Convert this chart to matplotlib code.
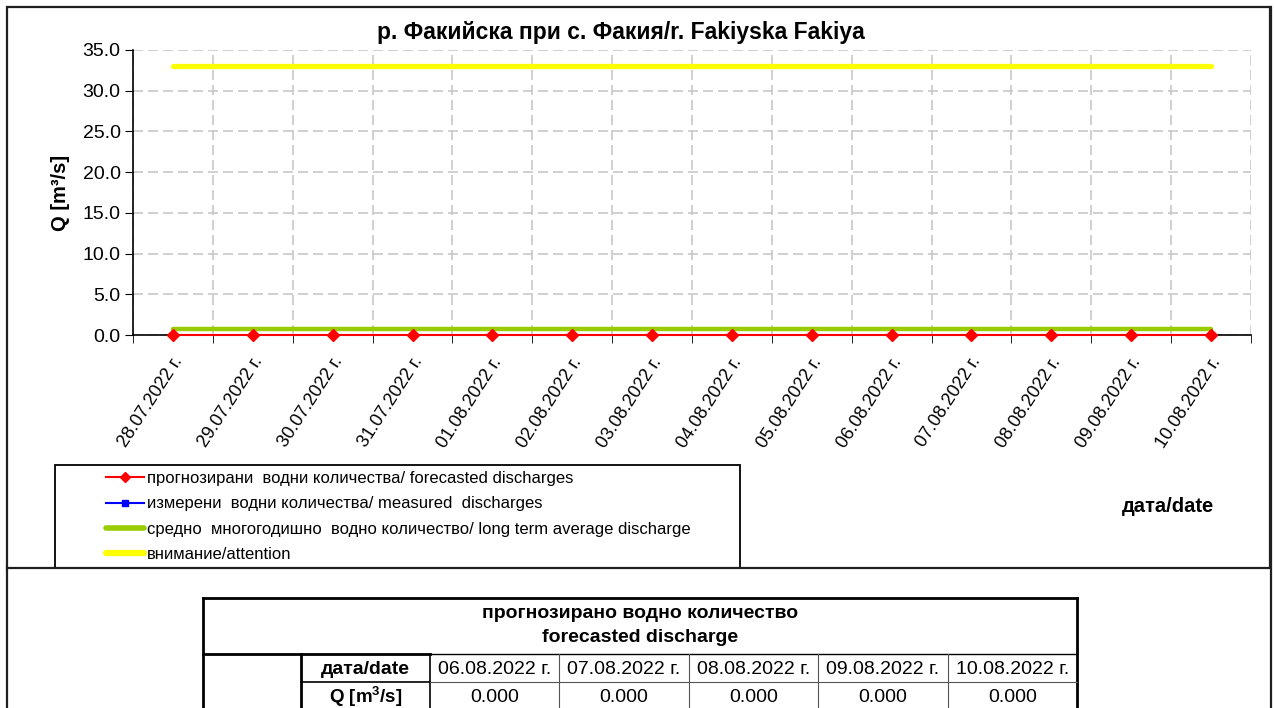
import numpy as np
import matplotlib.pyplot as plt
from matplotlib.lines import Line2D
from matplotlib.patches import Rectangle
from matplotlib.transforms import ScaledTranslation

plt.rcParams['font.family'] = ['Liberation Sans', 'DejaVu Sans']
plt.rcParams['mathtext.fontset'] = 'custom'
plt.rcParams['mathtext.rm'] = 'Liberation Sans'
plt.rcParams['mathtext.bf'] = 'Liberation Sans:bold'

W, H = 1274, 708

# chart data
dates = ['28.07.2022 г.', '29.07.2022 г.', '30.07.2022 г.', '31.07.2022 г.',
         '01.08.2022 г.', '02.08.2022 г.', '03.08.2022 г.', '04.08.2022 г.',
         '05.08.2022 г.', '06.08.2022 г.', '07.08.2022 г.', '08.08.2022 г.',
         '09.08.2022 г.', '10.08.2022 г.']
forecast = [0.0, 0.0, 0.0, 0.0, 0.0, 0.0, 0.0, 0.0, 0.0, 0.0, 0.0, 0.0, 0.0, 0.0]
measured = []
average = [0.7, 0.7, 0.7, 0.7, 0.7, 0.7, 0.7, 0.7, 0.7, 0.7, 0.7, 0.7, 0.7, 0.7]
attention = [33.0, 33.0, 33.0, 33.0, 33.0, 33.0, 33.0, 33.0, 33.0, 33.0, 33.0, 33.0, 33.0, 33.0]

labels = ['прогнозирани  водни количества/ forecasted discharges',
          'измерени  водни количества/ measured  discharges',
          'средно  многогодишно  водно количество/ long term average discharge',
          'внимание/attention']

# table data
table_dates = ['06.08.2022 г.', '07.08.2022 г.', '08.08.2022 г.', '09.08.2022 г.', '10.08.2022 г.']
table_q = [0.000, 0.000, 0.000, 0.000, 0.000]


def fx(x):
    return x / W


def fy(y):
    return 1 - y / H


def hline(fig, x0, x1, y, lw=1.0, color='black'):
    fig.add_artist(Line2D([fx(x0), fx(x1)], [fy(y), fy(y)], transform=fig.transFigure,
                          lw=lw, color=color, solid_capstyle='projecting'))


def vline(fig, x, y0, y1, lw=1.0, color='black'):
    fig.add_artist(Line2D([fx(x), fx(x)], [fy(y0), fy(y1)], transform=fig.transFigure,
                          lw=lw, color=color, solid_capstyle='projecting'))


fig = plt.figure(figsize=(W / 100, H / 100), dpi=100)
ax = fig.add_axes([fx(133), fy(335), fx(1251) - fx(133), fy(50) - fy(335)])

x = np.arange(len(dates))
ax.plot(x, attention, color='#FFFF00', lw=3.8, solid_capstyle='round', zorder=3)
ax.plot(x, average, color='#99CC00', lw=3.2, solid_capstyle='round', zorder=3)
ax.plot(x, forecast, color='#FF0000', lw=1.5, marker='D', ms=6.5, zorder=4, clip_on=False)
ax.plot(measured, measured, color='#0000FF', lw=1.5, marker='s', ms=5)

ax.set_xlim(-0.5, len(dates) - 0.5)
ax.set_ylim(0, 35)
ax.set_yticks(np.arange(0, 36, 5))
ax.yaxis.set_major_formatter(plt.FormatStrFormatter('%.1f'))
ax.set_xticks(x)
ax.set_xticklabels(dates, rotation=57, ha='right', va='center', rotation_mode='anchor')
ax.set_xticks(np.arange(-0.5, len(dates), 1), minor=True)

ax.tick_params(axis='x', which='major', length=0, pad=17, labelsize=13)
ax.tick_params(axis='x', which='minor', length=6, direction='out', color='black')
ax.tick_params(axis='y', length=6, direction='out', color='black', labelsize=14, pad=3)
offset = ScaledTranslation(6 / 100, 0, fig.dpi_scale_trans)
for lab in ax.get_xticklabels():
    lab.set_transform(lab.get_transform() + offset)

ax.grid(which='minor', axis='x', color='#C8C8C8', ls=(0, (6, 3)), lw=1.2)
ax.grid(which='major', axis='y', color='#C8C8C8', ls=(0, (6, 3)), lw=1.2)
ax.set_axisbelow(True)
for side in ['top', 'right']:
    ax.spines[side].set_visible(False)
ax.spines['left'].set_linewidth(1.2)
ax.spines['bottom'].set_linewidth(1.2)

ax.set_ylabel('Q [m³/s]', fontsize=14.5, fontweight='bold', labelpad=9)

fig.text(fx(621), fy(33), 'р. Факийска при с. Факия/r. Fakiyska Fakiya',
         fontsize=16.5, fontweight='bold', ha='center', va='center')
fig.text(fx(1168), fy(506), 'дата/date', fontsize=14.5, fontweight='bold', ha='center', va='center')

# legend
handles = [Line2D([], [], color='#FF0000', lw=1.5, marker='D', ms=5),
           Line2D([], [], color='#0000FF', lw=1.5, marker='s', ms=5),
           Line2D([], [], color='#99CC00', lw=4, solid_capstyle='round'),
           Line2D([], [], color='#FFFF00', lw=4.5, solid_capstyle='round')]
fig.legend(handles, labels, loc='upper left', bbox_to_anchor=(fx(106), fy(471)),
           frameon=False, fontsize=12, handlelength=2.3, handletextpad=0.15,
           labelspacing=0.62, borderpad=0, borderaxespad=0, numpoints=1)
fig.add_artist(Rectangle((fx(55), fy(568)), fx(740) - fx(55), fy(465) - fy(568),
                         transform=fig.transFigure, fill=False, ec='black', lw=1.3))

# chart frame and sheet borders
fig.add_artist(Rectangle((fx(7), fy(568)), fx(1270) - fx(7), fy(7) - fy(568),
                         transform=fig.transFigure, fill=False, ec='#202020', lw=1.6))
vline(fig, 7, 568, 710, lw=1.6, color='#202020')
vline(fig, 1271, 7, 710, lw=1.6, color='#202020')

# forecast table
tl, tr, tt = 203, 1077, 598
col0, col1 = 301, 430
cw = (tr - col1) / len(table_dates)
hline(fig, tl, tr, tt, lw=2)
vline(fig, tl, tt, 712, lw=2)
vline(fig, tr, tt, 712, lw=2)
hline(fig, tl, col1, 654, lw=2)
hline(fig, col1, tr, 654, lw=1)
vline(fig, col0, 654, 712, lw=2)
vline(fig, col1, 654, 712, lw=1.2)
hline(fig, col0, col1, 682, lw=1.2)
hline(fig, col1, tr, 682, lw=0.8, color='#555555')
for i in range(1, len(table_dates)):
    vline(fig, col1 + i * cw, 654, 712, lw=0.8, color='#555555')

fig.text(fx((tl + tr) / 2), fy(614), 'прогнозирано водно количество', fontsize=14,
         fontweight='bold', ha='center', va='center')
fig.text(fx((tl + tr) / 2), fy(637), 'forecasted discharge', fontsize=14,
         fontweight='bold', ha='center', va='center')
fig.text(fx((col0 + col1) / 2), fy(669), 'дата/date', fontsize=14, fontweight='bold',
         ha='center', va='center')
fig.text(fx((col0 + col1) / 2), fy(697), r'Q [m$^{\mathbf{3}}$/s]', fontsize=13.5,
         fontweight='bold', ha='center', va='center')
for i, (d, q) in enumerate(zip(table_dates, table_q)):
    cx = col1 + (i + 0.5) * cw
    fig.text(fx(cx), fy(669), d, fontsize=14, ha='center', va='center')
    fig.text(fx(cx), fy(697), f'{q:.3f}', fontsize=14, ha='center', va='center')

fig.savefig('out.png', dpi=100)
